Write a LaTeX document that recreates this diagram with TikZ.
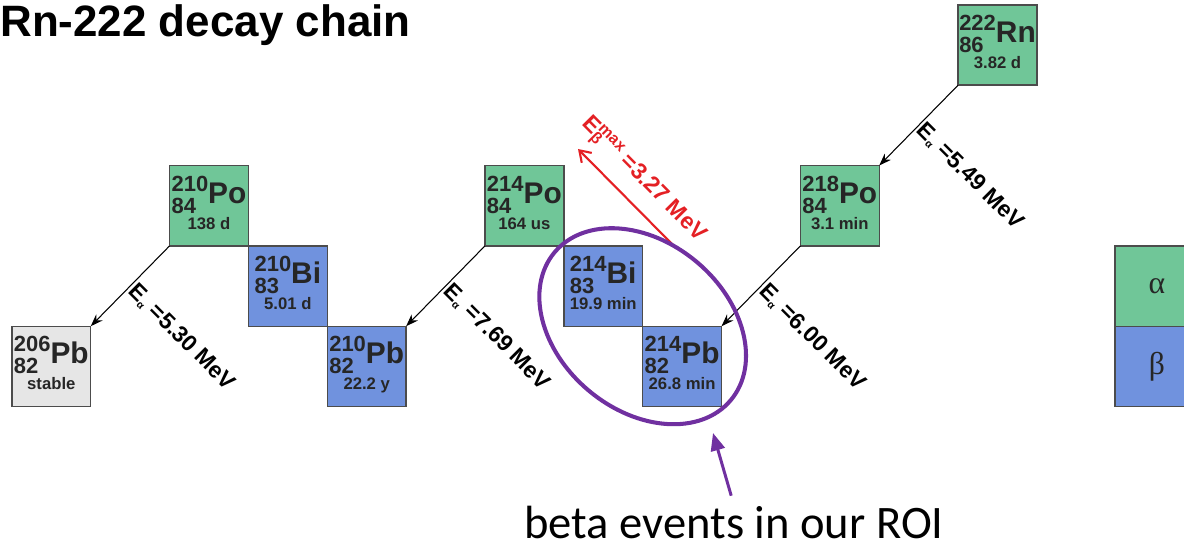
\documentclass[tikz,border=0pt]{standalone}
\usepackage{fontspec}
\setmainfont{Liberation Sans}
\newfontfamily\roifont{Carlito}
\newfontfamily\greekfont{Liberation Serif}
\definecolor{alphaGreen}{RGB}{112,198,152}
\definecolor{betaBlue}{RGB}{112,146,222}
\definecolor{stableGrey}{RGB}{230,230,230}
\definecolor{roiPurple}{RGB}{112,48,160}
\definecolor{betaRed}{RGB}{228,32,36}
\usetikzlibrary{arrows.meta,positioning,shapes.geometric}

% mass / charge / symbol / half-life
\newcommand{\iso}[4]{%
  \begin{tabular}{@{}c@{}}
    {\fontsize{12.5}{12.5}\selectfont\begin{tabular}{@{}l@{}}#1\\#2\end{tabular}}%
    {\fontsize{17}{20}\selectfont #3}\\[-3pt]
    {\fontsize{9.5}{11}\selectfont #4}
  \end{tabular}}
\newcommand{\ealpha}{E\textsubscript{\fontsize{6}{7}\selectfont α}}

\begin{document}
\begin{tikzpicture}[
  nuclide/.style={draw=black!70, line width=0.8pt, minimum width=1.577cm, outer sep=0pt,
                  minimum height=1.607cm, inner sep=0pt, font=\bfseries, text=black!85},
  alphabox/.style={nuclide, fill=alphaGreen},
  betabox/.style={nuclide, fill=betaBlue},
  stablebox/.style={nuclide, fill=stableGrey},
  decay/.style={semithick, -{Stealth[length=7pt,width=5pt]}},
  elabel/.style={rotate=-45, anchor=west, inner sep=1pt,
                 font=\bfseries\fontsize{13}{15}\selectfont},
  legend/.style={minimum width=1.68cm, font=\greekfont\fontsize{18}{20}\selectfont}
]
  \useasboundingbox (0,0) rectangle (23.68,-10.92);
  \node[anchor=base west, inner sep=0pt, font=\bfseries\fontsize{25}{28}\selectfont]
    (title) at (0,-0.74) {Rn-222 decay chain};

  \node[alphabox]                                        (rn222) at (19.95,-0.9) {\iso{222}{86}{Rn}{3.82 d}};
  \node[alphabox, below left=1.607cm and 1.577cm of rn222] (po218) {\iso{218}{84}{Po}{3.1 min}};
  \node[betabox, below left=1.607cm and 1.577cm of po218]  (pb214) {\iso{214}{82}{Pb}{26.8 min}};
  \node[betabox, above left=0pt of pb214]                  (bi214) {\iso{214}{83}{Bi}{19.9 min}};
  \node[alphabox, above left=0pt of bi214]                 (po214) {\iso{214}{84}{Po}{164 us}};
  \node[betabox, below left=1.607cm and 1.577cm of po214]  (pb210) {\iso{210}{82}{Pb}{22.2 y}};
  \node[betabox, above left=0pt of pb210]                  (bi210) {\iso{210}{83}{Bi}{5.01 d}};
  \node[alphabox, above left=0pt of bi210]                 (po210) {\iso{210}{84}{Po}{138 d}};
  \node[stablebox, below left=1.607cm and 1.577cm of po210] (pb206) {\iso{206}{82}{Pb}{stable}};

  \draw[decay] (rn222.south west) -- node[elabel] {\ealpha\ =5.49 MeV} (po218.north east);
  \draw[decay] (po218.south west) -- node[elabel] {\ealpha\ =6.00 MeV} (pb214.north east);
  \draw[decay] (po214.south west) -- node[elabel] {\ealpha\ =7.69 MeV} (pb210.north east);
  \draw[decay] (po210.south west) -- node[elabel] {\ealpha\ =5.30 MeV} (pb206.north east);

  % beta endpoint
  \coordinate (bstart) at (13.46,-4.9);
  \coordinate (bend) at (11.56,-2.98);
  \draw[betaRed, line width=1.2pt, -{Straight Barb[length=6pt,width=8pt]}] (bstart) --
    node[sloped, above=3pt, text=betaRed, font=\bfseries\fontsize{13}{15}\selectfont]
    {E\rlap{\textsubscript{β}}\textsuperscript{max} =3.27 MeV} (bend);

  % legend
  \node[alphabox, legend, anchor=north west] (lega) at (22.3,-4.92) {α};
  \node[betabox, legend, below=0pt of lega] (legb) {β};

  % region of interest
  \node[ellipse, draw=roiPurple, line width=2.3pt, inner sep=0pt, minimum width=4.6cm,
        minimum height=3.36cm, rotate=-40] (roi) at (bi214.south east) {};
  \node[anchor=base, inner sep=0pt, font=\roifont\fontsize{26.5}{30}\selectfont] (note)
    at (14.68,-10.76) {beta events in our ROI};
  \coordinate (roitip) at (14.26,-8.66);
  \draw[roiPurple, line width=1.7pt, shorten <=0.2cm, -{Triangle[length=10pt,width=8pt]}]
    (note.north) -- (roitip);
\end{tikzpicture}
\end{document}
